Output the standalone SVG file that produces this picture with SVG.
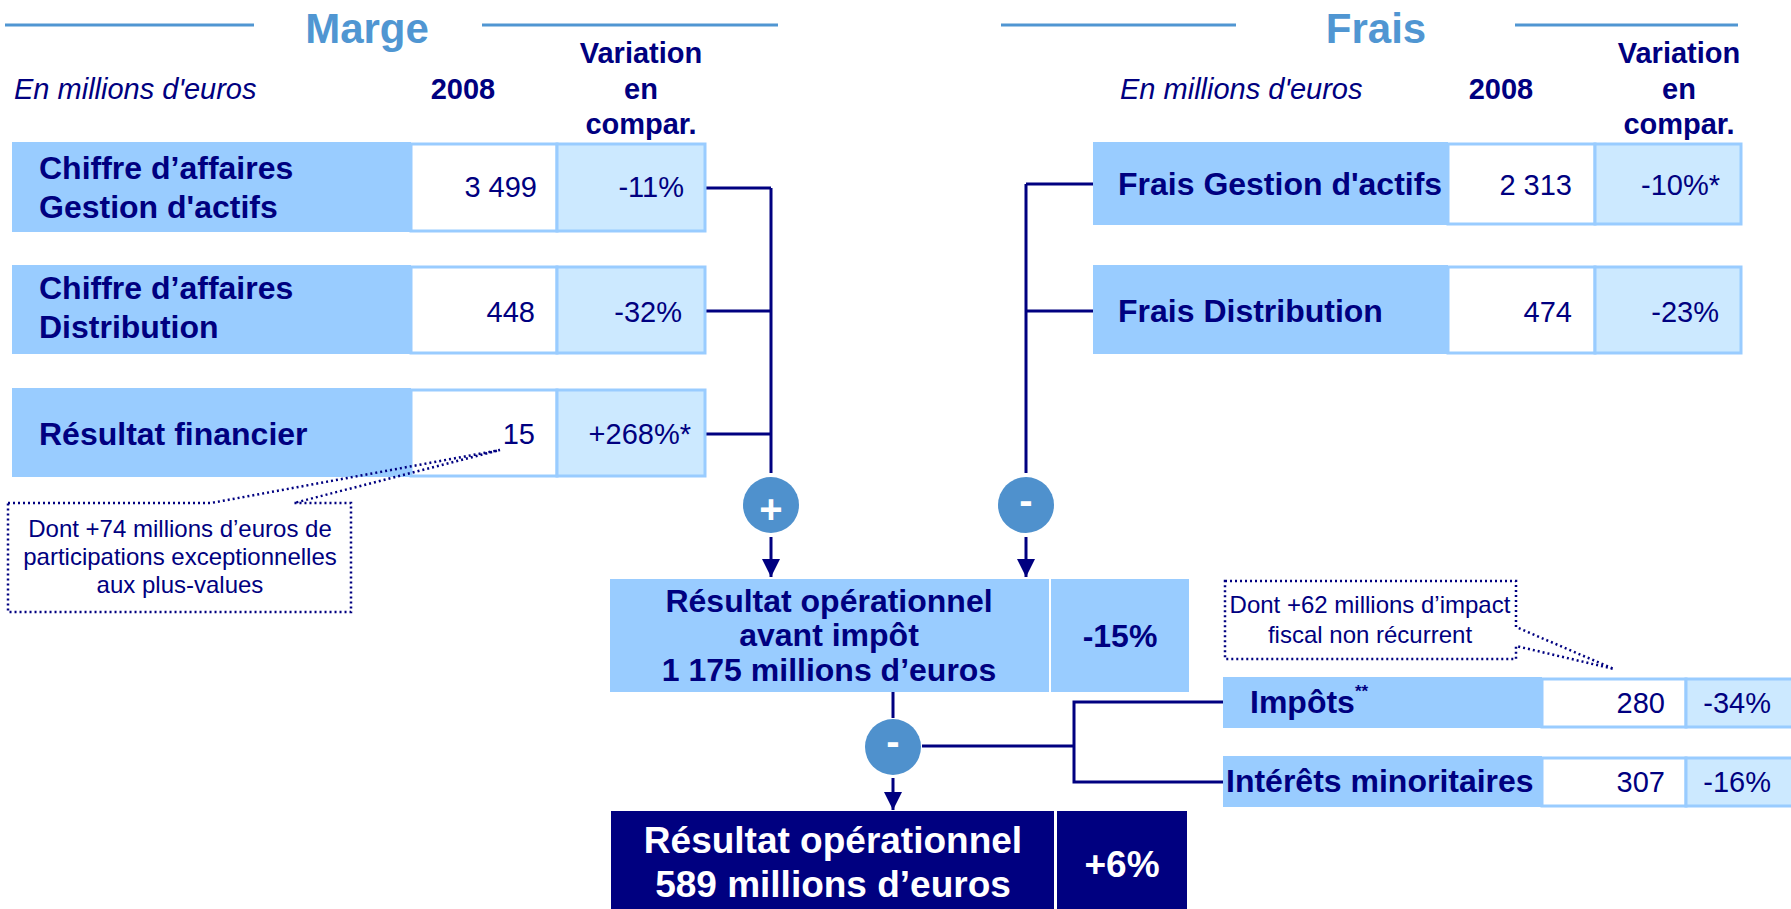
<svg xmlns="http://www.w3.org/2000/svg" width="1791" height="909" viewBox="0 0 1791 909">
  <defs>
    <marker id="arrow" viewBox="0 0 10 10" refX="10" refY="5" markerWidth="6" markerHeight="6" markerUnits="strokeWidth" orient="auto">
      <path d="M0 0 L10 5 L0 10 Z" fill="#000080"/>
    </marker>
    <style>
      text { font-family: "Liberation Sans", Arial, sans-serif; fill: #000080; }
      .title { font-size: 42px; font-weight: bold; fill: #5096d2; text-anchor: middle; }
      .rule { stroke: #5096d2; stroke-width: 3; }
      .unit { font-size: 29px; font-style: italic; }
      .head { font-size: 29px; font-weight: bold; text-anchor: middle; }
      .lbl { font-size: 32px; font-weight: bold; }
      .val { font-size: 29px; text-anchor: end; }
      .big { font-size: 32px; font-weight: bold; text-anchor: middle; }
      .huge { font-size: 37px; font-weight: bold; text-anchor: middle; fill: #ffffff; }
      .note { font-size: 24px; text-anchor: middle; }
      .box { fill: #99ccff; }
      .white { fill: #ffffff; stroke: #99ccff; stroke-width: 3; }
      .light { fill: #cce9ff; stroke: #99ccff; stroke-width: 3; }
      .dark { fill: #000080; }
      .wire { fill: none; stroke: #000080; stroke-width: 3; }
      .op { fill: #4f91cd; }
      .sign { font-size: 40px; font-weight: bold; fill: #ffffff; text-anchor: middle; }
      .callout { fill: none; stroke: #000080; stroke-width: 2.5; stroke-dasharray: 2 3; }
    </style>
  </defs>

  <!-- section headers -->
  <g id="header-marge">
    <line class="rule" x1="5" y1="25" x2="254" y2="25"/>
    <line class="rule" x1="482" y1="25" x2="778" y2="25"/>
    <text class="title" x="367" y="43">Marge</text>
    <text class="unit" x="14" y="99">En millions d'euros</text>
    <text class="head" x="463" y="99">2008</text>
    <text class="head" x="641" y="63">Variation</text>
    <text class="head" x="641" y="99">en</text>
    <text class="head" x="641" y="134">compar.</text>
  </g>
  <g id="header-frais">
    <line class="rule" x1="1001" y1="25" x2="1236" y2="25"/>
    <line class="rule" x1="1515" y1="25" x2="1738" y2="25"/>
    <text class="title" x="1376" y="43">Frais</text>
    <text class="unit" x="1120" y="99">En millions d'euros</text>
    <text class="head" x="1501" y="99">2008</text>
    <text class="head" x="1679" y="63">Variation</text>
    <text class="head" x="1679" y="99">en</text>
    <text class="head" x="1679" y="134">compar.</text>
  </g>

  <!-- connectors -->
  <g id="connectors">
    <path class="wire" d="M705 188 H771 M705 311 H771 M705 434 H771 M771 188 V473"/>
    <line class="wire" x1="771" y1="537" x2="771" y2="577" marker-end="url(#arrow)"/>
    <path class="wire" d="M1093 184 H1026 M1093 311 H1026 M1026 184 V473"/>
    <line class="wire" x1="1026" y1="537" x2="1026" y2="577" marker-end="url(#arrow)"/>
    <line class="wire" x1="893" y1="684" x2="893" y2="718"/>
    <line class="wire" x1="893" y1="778" x2="893" y2="810" marker-end="url(#arrow)"/>
    <path class="wire" d="M922 746 H1074 M1223 702 H1074 V782 H1223"/>
  </g>

  <!-- revenue rows -->
  <g id="ca-gestion">
    <rect class="box" x="12" y="142" width="399" height="90"/>
    <rect class="white" x="411" y="144" width="146" height="87"/>
    <rect class="light" x="557" y="144" width="148" height="87"/>
    <text class="lbl" x="39" y="179">Chiffre d’affaires</text>
    <text class="lbl" x="39" y="218">Gestion d'actifs</text>
    <text class="val" x="537" y="197">3 499</text>
    <text class="val" x="684" y="197">-11%</text>
  </g>
  <g id="ca-distribution">
    <rect class="box" x="12" y="265" width="399" height="89"/>
    <rect class="white" x="411" y="267" width="146" height="86"/>
    <rect class="light" x="557" y="267" width="148" height="86"/>
    <text class="lbl" x="39" y="299">Chiffre d’affaires</text>
    <text class="lbl" x="39" y="338">Distribution</text>
    <text class="val" x="535" y="322">448</text>
    <text class="val" x="682" y="322">-32%</text>
  </g>
  <g id="resultat-financier">
    <rect class="box" x="12" y="388" width="399" height="89"/>
    <rect class="white" x="411" y="390" width="146" height="86"/>
    <rect class="light" x="557" y="390" width="148" height="86"/>
    <text class="lbl" x="39" y="445">Résultat financier</text>
    <text class="val" x="535" y="444">15</text>
    <text class="val" x="691" y="444">+268%*</text>
  </g>
  <g id="note-financier">
    <path class="callout" d="M8 503 H211 L500 450 L294 503 H351 V612 H8 Z"/>
    <text class="note" x="180" y="537">Dont +74 millions d’euros de</text>
    <text class="note" x="180" y="565">participations exceptionnelles</text>
    <text class="note" x="180" y="593">aux plus-values</text>
  </g>

  <!-- cost rows -->
  <g id="frais-gestion">
    <rect class="box" x="1093" y="142" width="355" height="83"/>
    <rect class="white" x="1448" y="144" width="147" height="80"/>
    <rect class="light" x="1595" y="144" width="146" height="80"/>
    <text class="lbl" x="1118" y="195">Frais Gestion d'actifs</text>
    <text class="val" x="1572" y="195">2 313</text>
    <text class="val" x="1720" y="195">-10%*</text>
  </g>
  <g id="frais-distribution">
    <rect class="box" x="1093" y="265" width="355" height="89"/>
    <rect class="white" x="1448" y="267" width="147" height="86"/>
    <rect class="light" x="1595" y="267" width="146" height="86"/>
    <text class="lbl" x="1118" y="322">Frais Distribution</text>
    <text class="val" x="1572" y="322">474</text>
    <text class="val" x="1719" y="322">-23%</text>
  </g>

  <!-- operators -->
  <g id="op-plus">
    <circle class="op" cx="771" cy="505" r="28"/>
    <text class="sign" x="771" y="523">+</text>
  </g>
  <g id="op-minus-frais">
    <circle class="op" cx="1026" cy="505" r="28"/>
    <text class="sign" x="1026" y="514">-</text>
  </g>
  <g id="op-minus-impots">
    <circle class="op" cx="893" cy="747" r="28"/>
    <text class="sign" x="893" y="755">-</text>
  </g>

  <!-- operating result before tax -->
  <g id="resultat-avant-impot">
    <rect class="box" x="610" y="579" width="439" height="113"/>
    <rect class="box" x="1051" y="579" width="138" height="113"/>
    <text class="big" x="829" y="612">Résultat opérationnel</text>
    <text class="big" x="829" y="646">avant impôt</text>
    <text class="big" x="829" y="681">1 175 millions d’euros</text>
    <text class="big" x="1120" y="647">-15%</text>
  </g>

  <!-- tax and minority interests -->
  <g id="note-impots">
    <path class="callout" d="M1225 581 H1516 V627 L1614 669 L1516 646 V659 H1225 Z"/>
    <text class="note" x="1370" y="613">Dont +62 millions d’impact</text>
    <text class="note" x="1370" y="643">fiscal non récurrent</text>
  </g>
  <g id="impots">
    <rect class="box" x="1223" y="677" width="319" height="51"/>
    <rect class="white" x="1542" y="679" width="144" height="48"/>
    <rect class="light" x="1686" y="679" width="110" height="48"/>
    <text class="lbl" x="1250" y="713">Impôts<tspan font-size="17" dy="-16">**</tspan></text>
    <text class="val" x="1665" y="713">280</text>
    <text class="val" x="1771" y="713">-34%</text>
  </g>
  <g id="interets-minoritaires">
    <rect class="box" x="1223" y="756" width="319" height="51"/>
    <rect class="white" x="1542" y="758" width="144" height="48"/>
    <rect class="light" x="1686" y="758" width="110" height="48"/>
    <text class="lbl" x="1226" y="792">Intérêts minoritaires</text>
    <text class="val" x="1665" y="792">307</text>
    <text class="val" x="1771" y="792">-16%</text>
  </g>

  <!-- operating result -->
  <g id="resultat-operationnel">
    <rect class="dark" x="611" y="811" width="443" height="110"/>
    <rect class="dark" x="1057" y="811" width="130" height="110"/>
    <text class="huge" x="833" y="853">Résultat opérationnel</text>
    <text class="huge" x="833" y="897">589 millions d’euros</text>
    <text class="huge" x="1122" y="877">+6%</text>
  </g>
</svg>
